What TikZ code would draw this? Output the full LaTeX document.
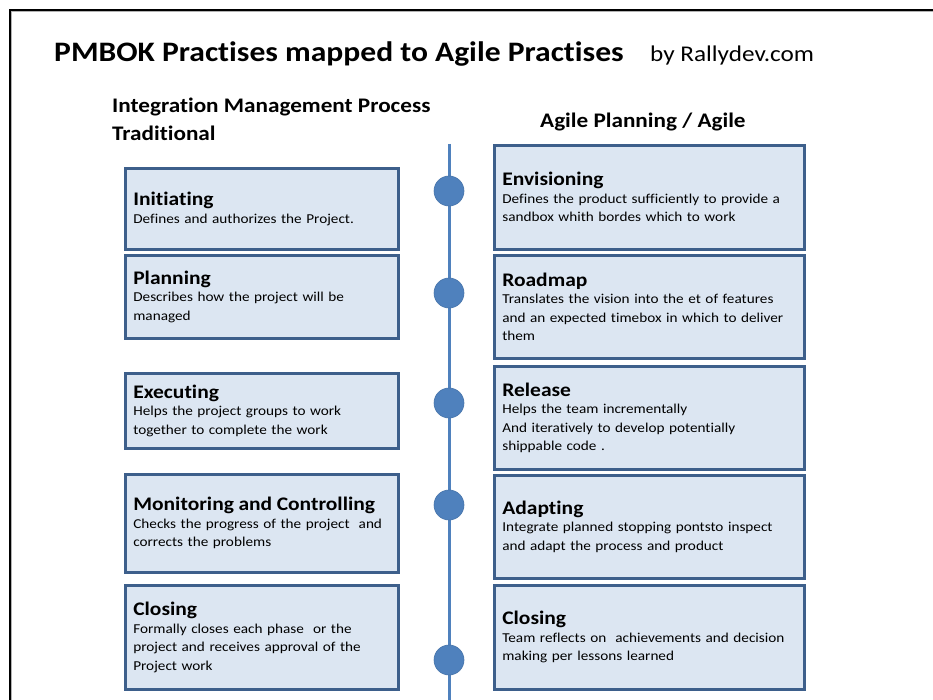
\documentclass[tikz,border=0pt]{standalone}
\usepackage{fontspec}
\setmainfont{Carlito}[FakeStretch=1.12, Ligatures=NoCommon]
\definecolor{boxfill}{HTML}{DCE6F2}
\definecolor{boxline}{HTML}{3D5F8B}
\definecolor{tl}{HTML}{4F81BD}
\begin{document}
\begin{tikzpicture}[x=1pt,y=-1pt,
  phase/.style={draw=boxline, line width=2.6pt, fill=boxfill, rectangle, anchor=north west,
    minimum width=273pt, text width=257pt, inner xsep=8pt, inner ysep=2pt, align=left,
    font=\fontsize{13.6}{18.5}\selectfont},
  rphase/.style={phase, minimum width=310pt, text width=294pt},
  dot/.style={circle, fill=tl, draw=tl!90!black, line width=0.6pt, minimum size=30pt, inner sep=0pt},
  head/.style={font=\fontsize{20.7}{28}\selectfont\bfseries, anchor=base west, align=left}
]
\useasboundingbox (0,0) rectangle (933,700);
\fill[white] (0,0) rectangle (933,700);
% frame
\draw[black, line width=2pt] (10,700) -- (10,10) -- (933,10);
\draw[gray!60, line width=1pt] (11.5,700) -- (11.5,11.5) -- (933,11.5);

\node[anchor=base west, inner sep=0pt, font=\fontsize{28.2}{32}\selectfont\bfseries] (title) at (54,62) {PMBOK Practises mapped to Agile Practises};
\node[anchor=base west, inner sep=0pt, font=\fontsize{22.5}{26}\selectfont] (by) at (650,62) {by Rallydev.com};
\node[head, anchor=north west, inner sep=0pt] (lhead) at (112,98) {Integration Management Process\\Traditional};
\node[head, inner sep=0pt] (rhead) at (540,128) {Agile Planning / Agile};

% timeline
\coordinate (ttop) at (449,144);
\coordinate (tbot) at (449,700);
\draw[tl, line width=3pt] (ttop) -- (tbot);
\node[dot] (d1) at (449,191) {};
\node[dot] (d2) at (449,293) {};
\node[dot] (d3) at (449,403) {};
\node[dot] (d4) at (449,505) {};
\node[dot] (d5) at (449,660) {};

\newcommand{\ttl}[1]{{\fontsize{19.2}{22}\selectfont\bfseries #1}\\[-1pt]}

% left boxes
\node[phase, minimum height=81pt] (l1) at (124,167) {\ttl{Initiating}Defines and authorizes the Project.};
\node[phase, minimum height=83pt] (l2) at (124,254) {\ttl{Planning}Describes how the project will be\\managed};
\node[phase, minimum height=75pt] (l3) at (124,372) {\ttl{Executing}Helps the project groups to work\\together to complete the work};
\node[phase, minimum height=98pt] (l4) at (124,473) {\ttl{Monitoring and Controlling}Checks the progress of the project\ \ and\\corrects the problems};
\node[phase, minimum height=104pt] (l5) at (124,584) {\ttl{Closing}Formally closes each phase\ \ or the\\project and receives approval of the\\Project work};

% right boxes
\node[rphase, minimum height=104pt] (r1) at (493,144) {\ttl{Envisioning}Defines the product sufficiently to provide a\\sandbox whith bordes which to work};
\node[rphase, minimum height=103pt] (r2) at (493,254) {\ttl{Roadmap}Translates the vision into the et of features\\and an expected timebox in which to deliver\\them};
\node[rphase, minimum height=103pt] (r3) at (493,365) {\ttl{Release}Helps the team incrementally\\And iteratively to develop potentially\\shippable code .};
\node[rphase, minimum height=103pt] (r4) at (493,474) {\ttl{Adapting}Integrate planned stopping pontsto inspect\\and adapt the process and product};
\node[rphase, minimum height=104pt] (r5) at (493,584) {\ttl{Closing}Team reflects on\ \ achievements and decision\\making per lessons learned};
\end{tikzpicture}
\end{document}
